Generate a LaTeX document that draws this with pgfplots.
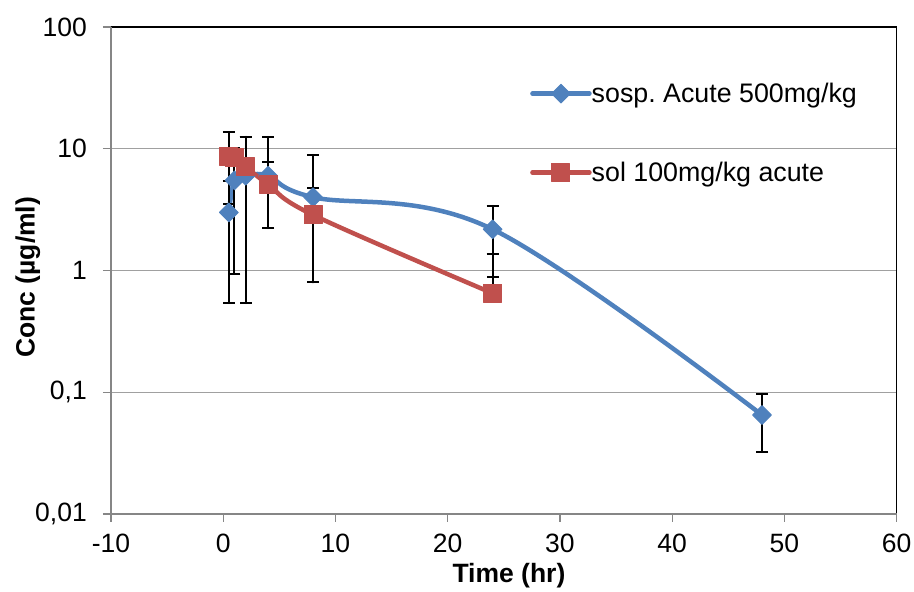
\documentclass[border=0pt]{standalone}
\usepackage{pgfplots}
\usepackage{pgfplotstable}
\pgfplotsset{compat=1.18}
\usepackage{fontspec}
\setmainfont{Liberation Sans}
\frenchspacing
\definecolor{xlblue}{HTML}{4F81BD}
\definecolor{xlred}{HTML}{C0504D}
\definecolor{gridc}{RGB}{160,160,160}
\definecolor{axc}{RGB}{134,134,134}

\pgfplotstableread{
x y ep em
0.5 3.0 2.46 2.46
1 5.5 4.56 4.56
2 6.0 6.5 5.46
4 6.0 6.5 3.77
8 4.0 4.9 0.6
24 2.18 1.21 1.30
48 0.065 0.032 0.0325
}\bluedata

\pgfplotstableread{
x y ep em
0.5 8.6 5.1 5.1
1 8.4 0.5 0.5
2 7.1 5.4 0.5
4 5.1 2.7 0.8
8 2.86 1.9 2.06
24 0.65 0.71 0.05
}\reddata

\begin{document}
\begin{tikzpicture}
\begin{axis}[
  name=ax, at={(0,0)}, anchor=south west,
  scale only axis, width=785.7pt, height=487pt,
  xmin=-10, xmax=60, xtick={-10,0,10,20,30,40,50,60},
  ymode=log, log basis y=10, ymin=0.01, ymax=100,
  ytick={0.01,0.1,1,10,100},
  yticklabels={{0,01},{0,1},1,10,100},
  yminorticks=false,
  /pgf/number format/assume math mode=true,
  axis line style={draw=none},
  ymajorgrids, grid style={gridc, line width=1.3pt},
  tick align=outside, major tick length=8pt,
  tick style={axc, line width=1.3pt},
  xtick pos=left, ytick pos=left,
  ticklabel style={font=\fontsize{26.5}{30}\selectfont, inner sep=0pt},
  yticklabel style={anchor=east, xshift=-16pt},
  xticklabel style={anchor=north, yshift=-12pt},
  every axis y label/.style={at={(axis description cs:-0.106,0.486)}, rotate=90, anchor=center, font=\fontsize{26.5}{30}\selectfont\bfseries},
  every axis x label/.style={at={(axis description cs:0.5065,-0.127)}, anchor=center, font=\fontsize{26.5}{30}\selectfont\bfseries},
  xlabel={Time (hr)},
  ylabel={Conc (µg/ml)},
  legend style={at={(rel axis cs:0.5333,0.885)}, anchor=north west, draw=none, fill=none,
    inner sep=0pt, row sep=58pt, font=\fontsize{26.8}{30}\selectfont,
    nodes={inner sep=0pt, anchor=west},
    /tikz/every odd column/.append style={column sep=0pt}},
  legend cell align=left,
  legend image code/.code={\draw[mark repeat=2,mark phase=2,#1] plot coordinates {(0pt,0pt)(28.5pt,0pt)(57pt,0pt)};},
  clip=false,
]
\addplot[xlblue, line width=4.5pt, line cap=round, line join=round, smooth, tension=0.6,
  mark=square*, mark size=6.6pt, mark options={rotate=45, solid, fill=xlblue, draw=xlblue, line width=1pt},
  error bars/.cd, y dir=both, y explicit,
  error bar style={black, line width=2pt},
  error mark options={black, line width=2pt, mark size=6pt, rotate=90}]
  table[x=x, y=y, y error plus=ep, y error minus=em] {\bluedata};
\addlegendentry{sosp. Acute 500mg/kg}
\addplot[xlred, line width=4.5pt, line cap=round, line join=round, smooth, tension=0.6,
  mark=square*, mark size=9pt, mark options={solid, fill=xlred, draw=xlred, line width=1pt},
  error bars/.cd, y dir=both, y explicit,
  error bar style={black, line width=2pt},
  error mark options={black, line width=2pt, mark size=6pt, rotate=90}]
  table[x=x, y=y, y error plus=ep, y error minus=em] {\reddata};
\addlegendentry{sol 100mg/kg acute}
\draw[black, line width=1.3pt] (rel axis cs:0,1) -- (rel axis cs:1,1) -- (rel axis cs:1,0);
\draw[axc, line width=1.3pt] (rel axis cs:0,1) -- (rel axis cs:0,0) -- (rel axis cs:1,0);
\end{axis}
\path (-111pt,-78pt) rectangle (803pt,514pt);
\end{tikzpicture}
\end{document}
